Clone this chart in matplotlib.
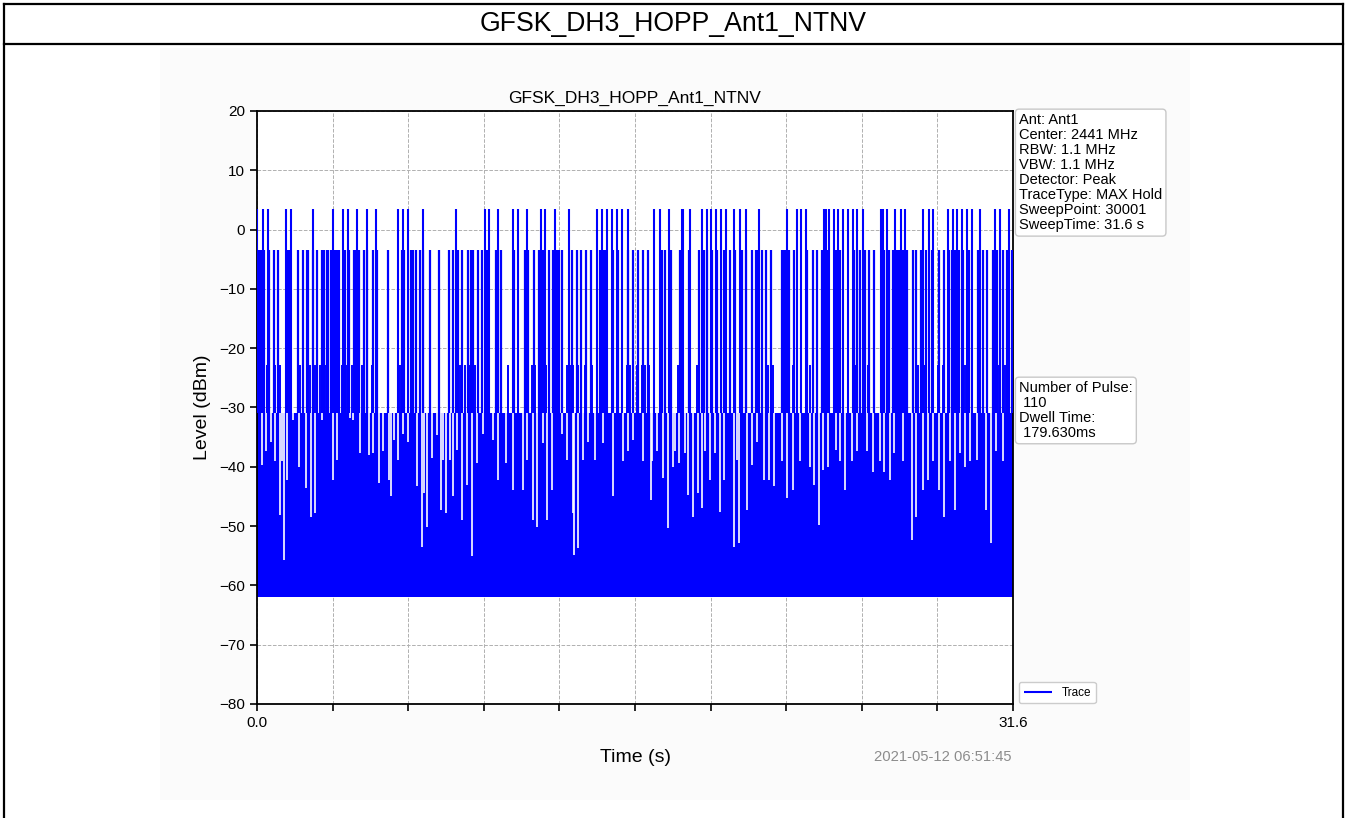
import matplotlib
matplotlib.use('Agg')
import matplotlib.pyplot as plt
from matplotlib.lines import Line2D
from matplotlib.patches import Rectangle

plt.rcParams['font.family'] = ['Liberation Sans', 'DejaVu Sans']

# ---------------- data ----------------
title = "GFSK_DH3_HOPP_Ant1_NTNV"
sweep_time = 31.6
y_ticks = [-80, -70, -60, -50, -40, -30, -20, -10, 0, 10, 20]
x_tick_labels = ["0.0", "", "", "", "", "", "", "", "", "", "31.6"]

noise_floor = -62.0
noise_top = -31.0
high_level = 3.4
mid_level = -3.5
edge_level = -22.8

# pulses reaching the top level (~ +3.4 dBm)
high_t = [0.01, 0.24, 0.45, 1.21, 1.41, 2.35, 3.19, 3.61, 3.82, 4.17, 4.58, 4.97,
          5.91, 6.12, 6.33, 6.95, 8.32, 9.53, 9.71, 10.09,
          10.69, 10.90, 11.30, 11.86, 12.04, 12.46, 13.04, 14.23, 14.43, 14.64,
          14.85, 15.06, 15.27, 15.52, 16.61, 16.85, 17.24, 17.75, 17.82, 18.10,
          18.59, 18.80, 18.96, 19.17, 19.38, 19.59, 19.95, 20.19, 20.44,
          21.00, 22.17, 22.56, 22.74, 22.95, 23.70, 23.78, 23.92, 24.12, 24.30,
          24.51, 24.72, 24.93, 25.09, 25.34, 26.07, 26.15, 26.32, 26.67, 26.91,
          27.09, 27.85, 28.10, 28.27, 28.90, 29.08, 29.27, 29.46, 29.69, 29.87,
          30.22, 30.85, 31.06, 31.45]

# pulses reaching the middle level (~ -3.5 dBm)
mid_t = [0.01, 0.10, 0.15, 0.29, 0.52, 0.71, 0.89, 1.24, 1.32, 1.73, 1.91, 2.08,
         2.14, 2.33, 2.49, 2.70, 2.80, 2.91, 2.98, 3.08, 3.26, 3.36, 3.44, 3.68,
         3.86, 4.05, 4.14, 4.28, 4.47, 4.61, 4.83, 5.00, 5.49, 6.05, 6.14, 6.42,
         6.50, 6.64, 6.81, 6.95, 7.23, 7.62, 8.02, 8.20, 8.41, 8.55, 8.83, 8.93,
         9.04, 9.25, 9.42, 9.57, 9.67, 9.99, 10.09, 10.18,
         10.74, 11.20, 11.34, 11.58, 11.80, 11.97, 12.22, 12.39, 12.53, 12.64,
         12.76, 13.15, 13.36, 13.53, 13.75, 13.95, 14.34, 14.50, 14.59, 14.89,
         15.10, 15.52, 15.73, 15.94, 16.15, 16.36, 16.91, 17.05, 17.29, 17.68,
         18.07, 18.49, 18.68, 18.82, 19.00, 19.24, 19.52, 19.77, 19.98, 20.26,
         20.46, 20.67, 20.95,
         20.86, 20.91, 21.09, 21.28, 21.47, 21.93, 22.03, 22.11, 22.25, 22.45,
         23.00, 23.23, 23.42, 23.60, 23.84, 24.20, 24.37, 24.95, 25.09, 25.20,
         25.41, 25.59, 25.79, 26.21, 26.32, 26.43, 26.60, 26.74, 26.85, 26.99,
         27.15, 27.40, 27.54, 27.74, 27.96, 28.20, 28.52, 28.71, 28.94, 29.03,
         29.17, 29.35, 29.52, 29.77, 30.15, 30.33, 30.53, 30.75, 30.94, 31.17,
         31.36, 31.56]

# shorter lines reaching about -22.8 dBm
edge_t = [0.19, 0.40, 0.75, 0.96, 1.80, 2.21, 2.42, 2.63, 2.84, 3.26, 3.40, 3.57,
          3.75, 3.96, 4.37, 4.58, 4.79, 5.98, 8.20, 8.48, 8.69, 8.90, 9.11, 9.39,
          10.50, 10.92, 11.48, 11.62, 12.10, 12.45, 12.94, 13.08, 13.22, 13.43,
          13.71, 13.99, 14.61, 15.03, 15.45, 15.59,
          15.87, 16.08, 16.22, 16.39, 17.05, 17.26, 17.61, 18.38, 19.39, 19.56,
          20.19, 21.09, 21.37, 21.58, 21.93, 22.42, 22.93, 23.11, 23.60, 23.81,
          24.23, 24.99, 25.55, 26.11, 26.67, 26.87, 27.08, 27.64, 27.92, 28.27,
          28.48, 28.69, 29.03, 29.59, 30.77, 30.98, 31.26]

# narrow gaps in the noise band: time and lowest level reached
dip_t = [0.20, 0.38, 0.57, 0.75, 0.96, 1.06, 1.14, 1.24, 1.52, 1.77, 2.05, 2.26,
         2.42, 2.70, 3.16, 3.33, 3.89, 4.03, 4.31, 4.70, 4.86, 5.11, 5.28, 5.53,
         5.60, 5.73, 5.91, 6.09, 6.33, 6.67, 6.88, 6.98, 7.09, 7.30, 7.51, 7.68,
         7.79, 7.89, 8.07, 8.18, 8.35, 8.58, 8.79, 8.97, 9.18, 9.46, 9.85, 10.09,
         10.41, 10.71, 11.10, 11.27, 11.55, 11.72, 11.94, 12.11, 12.32, 12.74,
         12.94, 13.19, 13.25, 13.40, 13.64, 13.85, 14.13, 14.48, 14.89, 15.17,
         15.31, 15.52, 15.73, 16.15, 16.45, 16.52, 16.70, 16.98, 17.19, 17.37,
         17.47, 17.65, 17.89, 18.03, 18.23, 18.44, 18.62, 18.72, 18.93, 19.14,
         19.35, 19.52, 19.93, 20.05, 20.14, 20.50, 20.71, 20.88, 21.19, 21.40,
         21.61, 21.93, 22.14, 22.39, 22.69, 23.11, 23.29, 23.49, 23.67, 23.88,
         24.22, 24.36, 24.57, 24.85, 25.06, 25.48, 25.76, 26.04, 26.20, 26.45,
         26.62, 27.01, 27.36, 27.53, 27.85, 28.06, 28.26, 28.51, 28.71, 28.96,
         29.17, 29.38, 29.59, 29.80, 30.08, 30.49, 30.67, 30.88, 31.19, 31.33]
dip_level = [-39.7, -37.4, -35.8, -39.1, -48.1, -39.1, -55.7, -42.2, -32.1, -40.0,
             -43.6, -48.4, -47.8, -32.1, -42.2, -38.8, -31.8, -32.1, -37.7, -38.0,
             -37.7, -42.8, -37.4, -42.2, -45.0, -35.5, -38.8, -34.4, -35.8, -43.3,
             -53.5, -44.5, -50.1, -38.6, -34.6, -47.3, -38.8, -47.8, -38.8, -45.0,
             -37.2, -49.0, -43.1, -55.1, -39.4, -34.4, -35.5, -42.2, -39.4, -43.9,
             -43.9, -38.8, -49.0, -50.1, -36.0, -49.0, -43.9, -34.4, -38.8, -47.8,
             -54.9, -53.7, -38.8, -35.8, -38.8, -36.0, -45.0, -31.0, -39.1, -37.4,
             -35.5, -39.1, -45.6, -39.1, -37.4, -41.9, -50.4, -40.0, -37.4, -39.4,
             -37.7, -44.8, -48.4, -44.5, -47.0, -37.4, -42.2, -37.7, -47.6, -42.2,
             -53.5, -38.8, -52.9, -47.3, -39.7, -35.8, -42.2, -42.2, -43.3, -39.1,
             -45.3, -43.9, -39.1, -40.0, -43.1, -49.8, -40.5, -40.0, -37.2, -39.1,
             -43.9, -39.1, -37.4, -37.4, -40.8, -39.1, -40.8, -42.2, -37.7, -39.1,
             -52.3, -48.4, -43.9, -42.2, -39.1, -43.9, -48.4, -39.1, -47.3, -37.7,
             -40.0, -39.1, -38.8, -47.3, -52.9, -37.4, -39.1, -31.0]

info_text = ("Ant: Ant1\nCenter: 2441 MHz\nRBW: 1.1 MHz\nVBW: 1.1 MHz\n"
             "Detector: Peak\nTraceType: MAX Hold\nSweepPoint: 30001\nSweepTime: 31.6 s")
pulse_text = "Number of Pulse:\n 110\nDwell Time:\n 179.630ms"
timestamp = "2021-05-12 06:51:45"

# ---------------- figure ----------------
W, H = 1346, 818
fig = plt.figure(figsize=(W / 100, H / 100), dpi=100)
fig.patch.set_facecolor('white')

def fx(px):
    return px / W

def fy(py):
    return 1 - py / H

# light inner image background
fig.patches.append(Rectangle((fx(160), fy(800)), fx(1190) - fx(160), fy(48) - fy(800),
                             transform=fig.transFigure, facecolor='#fbfbfb',
                             edgecolor='none', zorder=-10))

# outer table frame
frame_kw = dict(transform=fig.transFigure, color='black', lw=1.6, zorder=5)
fig.lines.append(Line2D([fx(3.5), fx(1342.5)], [fy(3.5), fy(3.5)], **frame_kw))
fig.lines.append(Line2D([fx(3.5), fx(1342.5)], [fy(43.5), fy(43.5)], **frame_kw))
fig.lines.append(Line2D([fx(3.5), fx(3.5)], [fy(3.5), 0], **frame_kw))
fig.lines.append(Line2D([fx(1342.5), fx(1342.5)], [fy(3.5), 0], **frame_kw))
fig.text(0.5, fy(24), title, ha='center', va='center', fontsize=19.2)

ax = fig.add_axes([fx(257), fy(704), fx(1013) - fx(257), fy(111) - fy(704)])
ax.set_zorder(1)
ax.set_facecolor('white')

blue = '#0000ff'
ax.fill_between([0, sweep_time], noise_floor, noise_top, color=blue, lw=0, zorder=2)
ax.vlines(dip_t, dip_level, noise_top + 0.5, colors='white', lw=1.2, zorder=3)
ax.vlines(edge_t, noise_top, edge_level, colors=blue, lw=1.4, zorder=4)
ax.vlines(mid_t, noise_top, mid_level, colors=blue, lw=1.6, zorder=4)
ax.vlines(high_t, noise_top, high_level, colors=blue, lw=1.5, zorder=4, label='Trace')

ax.set_xlim(0, sweep_time)
ax.set_ylim(y_ticks[0], y_ticks[-1])
ax.set_yticks(y_ticks)
x_ticks = [sweep_time * i / (len(x_tick_labels) - 1) for i in range(len(x_tick_labels))]
ax.set_xticks(x_ticks)
ax.set_xticklabels(x_tick_labels)
ax.tick_params(labelsize=11, length=5, width=1.2)
ax.set_axisbelow(True)
ax.grid(True, ls='--', color='#b0b0b0', lw=0.7)
for s in ax.spines.values():
    s.set_linewidth(1.3)

ax.set_title(title, fontsize=12.5, pad=6)
ax.set_xlabel("Time (s)", fontsize=14, labelpad=14)
ax.set_ylabel("Level (dBm)", fontsize=14, labelpad=6)

box_kw = dict(boxstyle='round,pad=0.25', facecolor='white', edgecolor='#c8c8c8')
ax.text(1.008, 0.997, info_text, transform=ax.transAxes, ha='left', va='top',
        fontsize=10.5, linespacing=1.1, bbox=box_kw)
ax.text(1.008, 0.545, pulse_text, transform=ax.transAxes, ha='left', va='top',
        fontsize=10.5, linespacing=1.1, bbox=box_kw)

leg = ax.legend(loc='lower left', bbox_to_anchor=(1.003, -0.005), fontsize=8.5,
                handlelength=2.4, framealpha=1, edgecolor='#cccccc', borderaxespad=0.3)

fig.text(fx(1012), fy(757), timestamp, ha='right', va='center', fontsize=10.6,
         color='#8c8c8c')

fig.savefig('out.png', dpi=100)
